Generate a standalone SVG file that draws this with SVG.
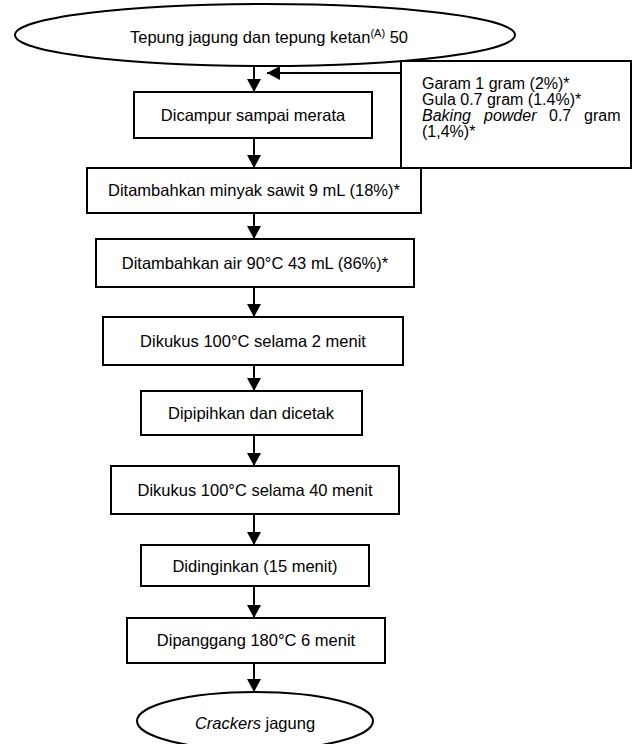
<svg xmlns="http://www.w3.org/2000/svg" width="633" height="744" viewBox="0 0 633 744">
<defs>
<marker id="ah" markerWidth="15" markerHeight="14" refX="13" refY="7" orient="auto" markerUnits="userSpaceOnUse">
<path d="M0,0 L13,7 L0,14 Z" fill="#000"/>
</marker>
</defs>
<style>
.b{fill:#fff;stroke:#000;stroke-width:2}
.t{font-family:"Liberation Sans",Arial,sans-serif;font-size:16.5px;fill:#000}
.s{font-size:16px}
.c{text-anchor:middle}
.l{stroke:#000;stroke-width:2;fill:none}
</style>
<rect width="633" height="744" fill="#fff"/>
<g id="connectors">
<line class="l" x1="254" y1="66" x2="254" y2="92" marker-end="url(#ah)"/>
<line class="l" x1="401" y1="73" x2="267" y2="73" stroke-width="2.5" marker-end="url(#ah)"/>
<line class="l" x1="254" y1="138" x2="254" y2="168" marker-end="url(#ah)"/>
<line class="l" x1="254" y1="213" x2="254" y2="239" marker-end="url(#ah)"/>
<line class="l" x1="254" y1="287" x2="254" y2="317" marker-end="url(#ah)"/>
<line class="l" x1="254" y1="365" x2="254" y2="391" marker-end="url(#ah)"/>
<line class="l" x1="254" y1="435" x2="254" y2="466" marker-end="url(#ah)"/>
<line class="l" x1="254" y1="514" x2="254" y2="545" marker-end="url(#ah)"/>
<line class="l" x1="254" y1="586" x2="254" y2="618" marker-end="url(#ah)"/>
<line class="l" x1="254" y1="663" x2="254" y2="692" marker-end="url(#ah)"/>
</g>
<g id="start">
<ellipse class="b" cx="265" cy="35" rx="250" ry="31"/>
<text class="t" x="130" y="43">Tepung jagung dan tepung ketan<tspan font-size="11" dy="-6">(A)</tspan><tspan dy="6"> 50</tspan></text>
</g>
<g id="ingredients">
<rect class="b" x="401" y="61" width="230" height="107"/>
<text class="t s" x="422" y="89">Garam 1 gram (2%)*</text>
<text class="t s" x="422" y="105">Gula 0.7 gram (1.4%)*</text>
<text class="t s" x="422" y="121"><tspan font-style="italic">Baking</tspan><tspan font-style="italic" x="484">powder</tspan><tspan x="549">0.7</tspan><tspan x="584">gram</tspan></text>
<text class="t s" x="422" y="137">(1,4%)*</text>
</g>
<g id="mix">
<rect class="b" x="134" y="92" width="238" height="46"/>
<text class="t c" x="253" y="121">Dicampur sampai merata</text>
</g>
<g id="oil">
<rect class="b" x="87" y="168" width="334" height="45"/>
<text class="t c" x="254" y="196">Ditambahkan minyak sawit 9 mL (18%)*</text>
</g>
<g id="water">
<rect class="b" x="96" y="239" width="318" height="48"/>
<text class="t c" x="255" y="269">Ditambahkan air 90°C 43 mL (86%)*</text>
</g>
<g id="steam1">
<rect class="b" x="103" y="317" width="300" height="48"/>
<text class="t c" x="253" y="347">Dikukus 100°C selama 2 menit</text>
</g>
<g id="flatten">
<rect class="b" x="141" y="391" width="221" height="44"/>
<text class="t c" x="251" y="419">Dipipihkan dan dicetak</text>
</g>
<g id="steam2">
<rect class="b" x="111" y="466" width="288" height="48"/>
<text class="t c" x="255" y="496">Dikukus 100°C selama 40 menit</text>
</g>
<g id="cool">
<rect class="b" x="141" y="545" width="228" height="41"/>
<text class="t c" x="255" y="572">Didinginkan (15 menit)</text>
</g>
<g id="bake">
<rect class="b" x="127" y="618" width="258" height="45"/>
<text class="t c" x="256" y="646">Dipanggang 180°C 6 menit</text>
</g>
<g id="end">
<ellipse class="b" cx="255" cy="721" rx="118" ry="29"/>
<text class="t c" x="255" y="729"><tspan font-style="italic">Crackers</tspan> jagung</text>
</g>
</svg>
